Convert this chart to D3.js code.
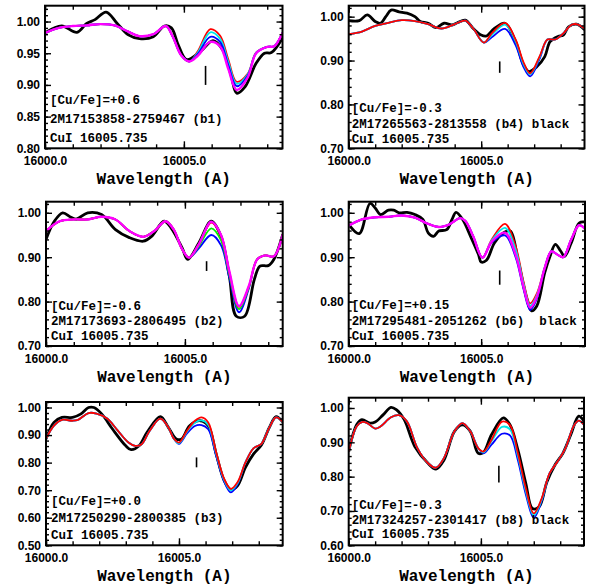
<!DOCTYPE html>
<html><head><meta charset="utf-8">
<script src="https://cdn.jsdelivr.net/npm/d3@7"></script>
<style>body{margin:0;background:#fff}svg{display:block}</style>
</head><body><svg id="c" width="596" height="588"></svg>
<script>
// ---------------- DATA ----------------
// wavelengths are offsets (Angstrom) from 16000.0
const wlBase = 16000;
const xTickLabels = [16000, 16005];

// Panel 1: 2M17153858-2759467 (b1)
const p1Labels = ["[Cu/Fe]=+0.6", "2M17153858-2759467 (b1)", "CuI 16005.735"];
const p1XRange = [16000, 16008.55];
const p1YRange = [0.80, 1.025];
const p1YTicks = [0.80, 0.85, 0.90, 0.95, 1.00];
const p1YMinor = 0.01;
const p1Marker = [16005.78, 0.900, 0.930];
const p1ObsWl = [0,0.6,1.15,1.5,1.8,2.2,2.6,3.0,3.4,3.9,4.3,4.55,4.8,5.1,5.6,6.05,6.4,6.7,6.9,7.2,7.6,7.9,8.15,8.55];
const p1Obs   = [0.982,0.993,0.983,0.997,1.003,1.015,0.997,0.979,0.973,0.976,0.993,0.990,0.963,0.940,0.953,0.970,0.955,0.915,0.887,0.897,0.934,0.950,0.951,0.974];
const p1SynWl = [0,0.5,1.0,1.5,2.0,2.5,3.0,3.4,3.9,4.35,4.6,4.9,5.2,5.5,5.95,6.3,6.6,6.9,7.3,7.6,8.0,8.25,8.55];
const p1Red     = [0.982,0.990,0.993,0.994,0.996,0.994,0.984,0.977,0.980,0.993,0.976,0.947,0.937,0.953,0.988,0.978,0.940,0.905,0.918,0.951,0.960,0.961,0.982];
const p1Cyan    = [0.982,0.990,0.993,0.994,0.996,0.994,0.984,0.977,0.980,0.993,0.976,0.947,0.937,0.951,0.983,0.973,0.936,0.902,0.917,0.951,0.960,0.961,0.982];
const p1Blue    = [0.982,0.990,0.993,0.994,0.996,0.994,0.984,0.977,0.980,0.993,0.976,0.947,0.937,0.949,0.976,0.968,0.931,0.898,0.915,0.950,0.960,0.961,0.982];
const p1Magenta = [0.982,0.990,0.993,0.994,0.996,0.994,0.984,0.977,0.980,0.993,0.976,0.947,0.937,0.946,0.968,0.961,0.925,0.892,0.912,0.950,0.960,0.961,0.982];

// Panel 2: 2M17265563-2813558 (b4)
const p2Labels = ["[Cu/Fe]=-0.3", "2M17265563-2813558 (b4) black", "CuI 16005.735"];
const p2XRange = [16000, 16008.9];
const p2YRange = [0.70, 1.025];
const p2YTicks = [0.70, 0.80, 0.90, 1.00];
const p2YMinor = 0.02;
const p2Marker = [16005.70, 0.872, 0.898];
const p2ObsWl = [0,0.4,0.7,1.0,1.2,1.4,1.6,1.9,2.2,2.5,2.7,3.0,3.3,3.6,3.9,4.1,4.4,4.7,5.0,5.2,5.5,5.9,6.3,6.6,6.8,7.1,7.4,7.6,7.9,8.1,8.3,8.6,8.9];
const p2Obs   = [0.991,0.991,1.004,0.989,0.985,1.000,1.015,1.011,1.008,1.000,0.989,0.985,0.975,0.985,0.981,0.986,0.992,0.973,0.958,0.956,0.973,0.985,0.943,0.890,0.875,0.886,0.909,0.943,0.955,0.958,0.977,0.983,0.970];
const p2SynWl = [0,0.5,1.0,1.5,2.0,2.5,3.0,3.5,4.0,4.4,4.7,5.1,5.4,5.9,6.3,6.6,6.85,7.2,7.5,7.8,8.1,8.4,8.6,8.9];
const p2Blue = [0.960,0.966,0.979,0.986,0.992,0.990,0.983,0.973,0.983,0.991,0.973,0.941,0.953,0.972,0.935,0.885,0.864,0.903,0.948,0.948,0.962,0.981,0.983,0.973];
const p2Cyan = [0.960,0.966,0.979,0.986,0.992,0.990,0.983,0.973,0.983,0.991,0.973,0.941,0.958,0.982,0.944,0.892,0.869,0.907,0.948,0.948,0.962,0.981,0.983,0.973];
const p2Red  = [0.960,0.966,0.979,0.986,0.992,0.990,0.983,0.973,0.983,0.991,0.973,0.941,0.962,0.986,0.948,0.896,0.871,0.909,0.948,0.948,0.962,0.981,0.983,0.973];

// Panel 3: 2M17173693-2806495 (b2)
const p3Labels = ["[Cu/Fe]=-0.6", "2M17173693-2806495 (b2)", "CuI 16005.735"];
const p3XRange = [16000, 16008.52];
const p3YRange = [0.70, 1.025];
const p3YTicks = [0.70, 0.80, 0.90, 1.00];
const p3YMinor = 0.02;
const p3Marker = [16005.78, 0.869, 0.891];
const p3ObsWl = [0,0.3,0.6,0.9,1.1,1.5,2.0,2.5,3.0,3.5,3.8,4.25,4.5,4.9,5.1,5.5,5.95,6.3,6.6,6.85,7.15,7.5,7.7,8.0,8.2,8.52];
const p3Obs   = [0.940,0.981,1.000,0.990,0.986,1.000,0.996,0.962,0.944,0.936,0.947,0.981,0.966,0.921,0.895,0.932,0.981,0.947,0.857,0.767,0.767,0.850,0.880,0.881,0.895,0.951];
const p3SynWl = [0,0.5,1.0,1.5,2.0,2.5,3.0,3.5,3.9,4.3,4.6,4.9,5.15,5.5,5.95,6.3,6.6,6.95,7.3,7.6,7.9,8.2,8.52];
const p3Red     = [0.959,0.981,0.985,0.985,0.991,0.985,0.959,0.946,0.959,0.981,0.962,0.918,0.899,0.929,0.978,0.948,0.866,0.788,0.834,0.895,0.904,0.902,0.951];
const p3Green   = [0.959,0.981,0.985,0.985,0.991,0.985,0.959,0.946,0.959,0.981,0.962,0.918,0.899,0.925,0.965,0.938,0.860,0.783,0.832,0.895,0.904,0.902,0.951];
const p3Blue    = [0.959,0.981,0.985,0.985,0.991,0.985,0.959,0.946,0.959,0.981,0.962,0.918,0.899,0.920,0.950,0.927,0.853,0.776,0.829,0.895,0.904,0.902,0.951];
const p3Magenta = [0.959,0.981,0.985,0.985,0.991,0.985,0.959,0.946,0.959,0.981,0.962,0.918,0.899,0.929,0.980,0.950,0.868,0.790,0.835,0.895,0.904,0.902,0.951];

// Panel 4: 2M17295481-2051262 (b6)
const p4Labels = ["[Cu/Fe]=+0.15", "2M17295481-2051262 (b6)  black", "CuI 16005.735"];
const p4XRange = [16000, 16008.92];
const p4YRange = [0.70, 1.025];
const p4YTicks = [0.70, 0.80, 0.90, 1.00];
const p4YMinor = 0.02;
const p4Marker = [16005.70, 0.838, 0.870];
const p4ObsWl = [0,0.4,0.8,1.0,1.2,1.5,1.7,1.9,2.2,2.5,2.8,3.0,3.2,3.4,3.7,3.9,4.05,4.3,4.6,4.9,5.0,5.2,5.5,5.85,6.1,6.4,6.7,6.9,7.1,7.4,7.6,7.8,8.0,8.15,8.4,8.7,8.95];
const p4Obs   = [0.974,0.953,1.021,1.011,0.996,1.006,1.006,1.000,1.001,0.996,0.985,0.955,0.947,0.959,0.962,0.985,1.001,0.985,0.947,0.906,0.889,0.893,0.932,0.955,0.959,0.891,0.812,0.779,0.790,0.865,0.902,0.929,0.914,0.902,0.932,0.977,0.979];
const p4SynWl = [0,0.5,1.0,1.5,2.0,2.5,3.0,3.4,3.8,4.2,4.4,4.7,5.05,5.4,5.9,6.3,6.6,6.85,7.1,7.4,7.65,7.9,8.1,8.4,8.7,8.95];
const p4Red     = [0.971,0.985,0.990,0.991,0.994,0.989,0.975,0.968,0.974,0.988,0.982,0.947,0.899,0.940,0.975,0.925,0.845,0.796,0.818,0.876,0.913,0.905,0.900,0.940,0.972,0.962];
const p4Cyan    = [0.971,0.985,0.990,0.991,0.994,0.989,0.975,0.968,0.974,0.988,0.982,0.947,0.899,0.938,0.966,0.917,0.840,0.791,0.814,0.876,0.913,0.905,0.900,0.940,0.972,0.962];
const p4Blue    = [0.971,0.985,0.990,0.991,0.994,0.989,0.975,0.968,0.974,0.988,0.982,0.947,0.899,0.933,0.949,0.900,0.828,0.781,0.806,0.876,0.913,0.905,0.900,0.940,0.972,0.962];
const p4Magenta = [0.971,0.985,0.990,0.991,0.994,0.989,0.975,0.968,0.974,0.988,0.982,0.947,0.899,0.935,0.955,0.906,0.833,0.786,0.810,0.876,0.913,0.905,0.900,0.940,0.972,0.962];

// Panel 5: 2M17250290-2800385 (b3)
const p5Labels = ["[Cu/Fe]=+0.0", "2M17250290-2800385 (b3)", "CuI 16005.735"];
const p5XRange = [16000, 16008.9];
const p5YRange = [0.50, 1.02];
const p5YTicks = [0.50, 0.60, 0.70, 0.80, 0.90, 1.00];
const p5YMinor = 0.02;
const p5Marker = [16005.66, 0.783, 0.819];
const p5ObsWl = [0,0.3,0.6,1.0,1.3,1.6,1.8,2.1,2.5,3.0,3.2,3.5,3.8,4.3,4.6,4.9,5.1,5.4,5.8,6.1,6.4,6.7,6.95,7.2,7.5,7.8,8.1,8.4,8.65,8.9];
const p5Obs   = [0.886,0.946,0.964,0.964,0.976,1.000,1.000,0.976,0.922,0.861,0.847,0.861,0.910,0.967,0.928,0.886,0.886,0.934,0.952,0.934,0.831,0.735,0.702,0.716,0.783,0.831,0.864,0.928,0.967,0.948];
const p5SynWl = [0,0.3,0.6,1.0,1.2,1.6,1.9,2.3,2.7,3.1,3.35,3.6,3.9,4.3,4.6,4.8,5.0,5.3,5.6,5.85,6.1,6.4,6.7,6.95,7.2,7.5,7.8,8.1,8.4,8.65,8.9];
const p5Blue = [0.886,0.934,0.955,0.952,0.955,0.980,0.978,0.960,0.916,0.873,0.861,0.867,0.916,0.960,0.928,0.888,0.868,0.906,0.933,0.936,0.921,0.824,0.731,0.692,0.721,0.801,0.852,0.868,0.928,0.964,0.948];
const p5Cyan = [0.886,0.934,0.955,0.952,0.955,0.980,0.978,0.960,0.916,0.873,0.861,0.867,0.916,0.960,0.928,0.888,0.870,0.912,0.945,0.953,0.937,0.832,0.737,0.699,0.725,0.801,0.852,0.868,0.928,0.964,0.948];
const p5Red  = [0.886,0.934,0.955,0.952,0.955,0.980,0.978,0.960,0.916,0.873,0.861,0.867,0.916,0.960,0.928,0.888,0.873,0.916,0.952,0.964,0.946,0.837,0.741,0.705,0.729,0.801,0.852,0.868,0.928,0.964,0.948];

// Panel 6: 2M17324257-2301417 (b8)
const p6Labels = ["[Cu/Fe]=-0.3", "2M17324257-2301417 (b8) black", "CuI 16005.735"];
const p6XRange = [16000, 16008.9];
const p6YRange = [0.60, 1.03];
const p6YTicks = [0.60, 0.70, 0.80, 0.90, 1.00];
const p6YMinor = 0.02;
const p6Marker = [16005.68, 0.783, 0.832];
const p6ObsWl = [0,0.3,0.5,0.8,1.0,1.3,1.6,1.8,2.1,2.5,3.0,3.3,3.6,4.0,4.3,4.6,4.9,5.1,5.4,5.85,6.1,6.4,6.7,6.95,7.2,7.5,7.8,8.1,8.4,8.7,8.9];
const p6Obs   = [0.873,0.951,0.966,0.956,0.959,0.980,1.002,0.995,0.966,0.888,0.839,0.822,0.848,0.932,0.951,0.932,0.868,0.871,0.922,0.971,0.951,0.878,0.780,0.707,0.712,0.785,0.834,0.868,0.922,0.976,0.961];
const p6SynWl = [0,0.3,0.5,0.7,1.0,1.2,1.6,1.9,2.2,2.6,3.0,3.3,3.6,4.0,4.3,4.6,4.9,5.1,5.4,5.8,6.1,6.4,6.7,7.0,7.3,7.6,7.9,8.2,8.5,8.7,8.9];
const p6Blue = [0.873,0.946,0.959,0.956,0.940,0.946,0.973,0.979,0.961,0.883,0.839,0.826,0.854,0.932,0.956,0.932,0.883,0.868,0.893,0.925,0.920,0.848,0.748,0.680,0.729,0.810,0.844,0.883,0.946,0.963,0.951];
const p6Cyan = [0.873,0.946,0.959,0.956,0.940,0.946,0.973,0.979,0.961,0.883,0.839,0.826,0.854,0.932,0.956,0.932,0.883,0.871,0.903,0.945,0.938,0.860,0.758,0.687,0.733,0.810,0.844,0.883,0.946,0.963,0.951];
const p6Red  = [0.873,0.946,0.959,0.956,0.940,0.946,0.973,0.979,0.961,0.883,0.839,0.826,0.854,0.932,0.956,0.932,0.883,0.873,0.907,0.960,0.950,0.868,0.766,0.693,0.737,0.810,0.844,0.883,0.946,0.963,0.951];

// ---------------- STYLE / LAYOUT ----------------
const colors = {red:"#ff0000", cyan:"#00e8e8", green:"#00f000", blue:"#0000ff", magenta:"#ff00ff"};
const widths = {red:1.8, cyan:1.8, green:1.8, blue:1.8, magenta:2.4};

const panels = [
  {labels:p1Labels, xr:p1XRange, yr:p1YRange, yt:p1YTicks, ym:p1YMinor, mk:p1Marker, obsWl:p1ObsWl, obs:p1Obs, synWl:p1SynWl,
   syn:[["red",p1Red],["cyan",p1Cyan],["blue",p1Blue],["magenta",p1Magenta]]},
  {labels:p2Labels, xr:p2XRange, yr:p2YRange, yt:p2YTicks, ym:p2YMinor, mk:p2Marker, obsWl:p2ObsWl, obs:p2Obs, synWl:p2SynWl,
   syn:[["blue",p2Blue],["cyan",p2Cyan],["red",p2Red]]},
  {labels:p3Labels, xr:p3XRange, yr:p3YRange, yt:p3YTicks, ym:p3YMinor, mk:p3Marker, obsWl:p3ObsWl, obs:p3Obs, synWl:p3SynWl,
   syn:[["blue",p3Blue],["green",p3Green],["red",p3Red],["magenta",p3Magenta]]},
  {labels:p4Labels, xr:p4XRange, yr:p4YRange, yt:p4YTicks, ym:p4YMinor, mk:p4Marker, obsWl:p4ObsWl, obs:p4Obs, synWl:p4SynWl,
   syn:[["red",p4Red],["cyan",p4Cyan],["blue",p4Blue],["magenta",p4Magenta]]},
  {labels:p5Labels, xr:p5XRange, yr:p5YRange, yt:p5YTicks, ym:p5YMinor, mk:p5Marker, obsWl:p5ObsWl, obs:p5Obs, synWl:p5SynWl,
   syn:[["blue",p5Blue],["cyan",p5Cyan],["red",p5Red]]},
  {labels:p6Labels, xr:p6XRange, yr:p6YRange, yt:p6YTicks, ym:p6YMinor, mk:p6Marker, obsWl:p6ObsWl, obs:p6Obs, synWl:p6SynWl,
   syn:[["blue",p6Blue],["cyan",p6Cyan],["red",p6Red]]}
];

const layout = [
  {l:45,   t:5.7,   r:282.5, b:148.3, tx:5, lines:[93.6,113.3,132]},
  {l:348.7,t:5.7,   r:584.5, b:148.3, tx:3, lines:[102,117.6,132.6]},
  {l:46,   t:201.7, r:282.7, b:346,   tx:5, lines:[103.6,119.3,134.3]},
  {l:348.7,t:201.7, r:585,   b:346,   tx:3, lines:[102.6,119.3,134.3]},
  {l:46,   t:402,   r:282.7, b:545.3, tx:5, lines:[98.3,115.7,132.3]},
  {l:348.7,t:397.7, r:584,   b:545.3, tx:3, lines:[106.8,121.5,136]}
];

const svg = d3.select("#c");
const tickFont = "'Liberation Sans', Arial, sans-serif";
const monoFont = "'Liberation Mono', 'DejaVu Sans Mono', monospace";

panels.forEach((p, i) => {
  const L = layout[i];
  const w = L.r - L.l, h = L.b - L.t;
  const g = svg.append("g").attr("transform", `translate(${L.l},${L.t})`);
  const x = d3.scaleLinear().domain(p.xr).range([0, w]);
  const y = d3.scaleLinear().domain(p.yr).range([h, 0]);

  const clipId = "clip" + i;
  g.append("clipPath").attr("id", clipId).append("rect").attr("width", w).attr("height", h);
  const plot = g.append("g").attr("clip-path", `url(#${clipId})`);

  const line = d3.line().curve(d3.curveCatmullRom.alpha(0.5));

  // observed spectrum
  plot.append("path")
    .attr("d", line(p.obsWl.map((d, j) => [x(wlBase + d), y(p.obs[j])])))
    .attr("fill", "none").attr("stroke", "#000").attr("stroke-width", 2.8)
    .attr("stroke-linejoin", "round");

  // synthetic spectra
  p.syn.forEach(([name, vals]) => {
    plot.append("path")
      .attr("d", line(p.synWl.map((d, j) => [x(wlBase + d), y(vals[j])])))
      .attr("fill", "none").attr("stroke", colors[name]).attr("stroke-width", widths[name]);
  });

  // CuI line marker
  g.append("line")
    .attr("x1", x(p.mk[0])).attr("x2", x(p.mk[0]))
    .attr("y1", y(p.mk[1])).attr("y2", y(p.mk[2]))
    .attr("stroke", "#000").attr("stroke-width", 1.6);

  // axes
  const minorY = d3.range(Math.round(p.yr[0] / p.ym), Math.floor(p.yr[1] / p.ym + 1e-6) + 1).map(k => +(k * p.ym).toFixed(4));
  const minorX = d3.range(Math.ceil(p.xr[0]), Math.floor(p.xr[1]) + 1);

  function axis(gen, tr) {
    const a = g.append("g").attr("transform", tr || null).call(gen);
    a.select(".domain").remove();
    a.selectAll("line").attr("stroke-width", 1.4);
    a.selectAll("text").attr("font-family", tickFont).attr("font-size", 12).attr("font-weight", "bold").attr("fill", "#000");
    return a;
  }
  axis(d3.axisLeft(y).tickValues(minorY).tickSize(-3).tickFormat(""));
  axis(d3.axisLeft(y).tickValues(p.yt).tickSize(-6).tickPadding(5).tickFormat(d3.format(".2f")));
  axis(d3.axisRight(y).tickValues(minorY).tickSize(-3).tickFormat(""), `translate(${w},0)`);
  axis(d3.axisRight(y).tickValues(p.yt).tickSize(-6).tickFormat(""), `translate(${w},0)`);
  axis(d3.axisBottom(x).tickValues(minorX).tickSize(-4).tickFormat(""), `translate(0,${h})`);
  axis(d3.axisBottom(x).tickValues(xTickLabels).tickSize(-7).tickPadding(8).tickFormat(d3.format(".1f")), `translate(0,${h})`);
  axis(d3.axisTop(x).tickValues(minorX).tickSize(-4).tickFormat(""));
  axis(d3.axisTop(x).tickValues(xTickLabels).tickSize(-7).tickFormat(""));

  // frame
  g.append("rect").attr("width", w).attr("height", h)
    .attr("fill", "none").attr("stroke", "#000").attr("stroke-width", 2);

  // labels inside panel
  p.labels.forEach((t, k) => {
    g.append("text").attr("x", L.tx).attr("y", L.lines[k]).attr("dy", "0.35em")
      .attr("font-family", monoFont).attr("font-weight", "bold").attr("font-size", 12.5)
      .attr("fill", "#000").attr("xml:space", "preserve").style("white-space", "pre").text(t);
  });

  // x axis title
  g.append("text").attr("x", w / 2).attr("y", h + 36).attr("text-anchor", "middle")
    .attr("font-family", monoFont).attr("font-weight", "bold").attr("font-size", 16)
    .attr("fill", "#000").text("Wavelength (A)");
});
</script></body></html>
